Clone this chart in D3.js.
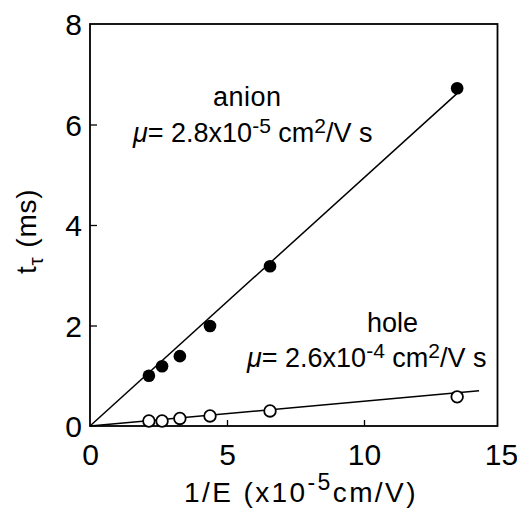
<!DOCTYPE html>
<html><head><meta charset="utf-8">
<script src="https://cdn.jsdelivr.net/npm/d3@7/dist/d3.min.js"></script>
<style>body{margin:0;background:#fff}svg{display:block}text{font-family:"Liberation Sans",Arial,sans-serif;fill:#000}</style>
</head><body>
<script>
const xTicks = [0, 5, 10, 15];
const yTicks = [0, 2, 4, 6, 8];
const anionX = [2.15, 2.63, 3.28, 4.38, 6.57, 13.4];
const anionY = [1.0, 1.19, 1.39, 1.99, 3.18, 6.72];
const holeX = [2.15, 2.63, 3.28, 4.38, 6.57, 13.4];
const holeY = [0.1, 0.1, 0.15, 0.2, 0.3, 0.58];
const anionFitX = [0, 13.4];
const anionFitY = [0, 6.62];
const holeFitX = [0, 14.2];
const holeFitY = [0, 0.70];

const W = 517, H = 514;
const svg = d3.select("body").append("svg").attr("width", W).attr("height", H);
const x = d3.scaleLinear().domain([0, 15]).range([90, 501]);
const y = d3.scaleLinear().domain([0, 8]).range([426, 24]);

// frame
svg.append("rect").attr("x", x(0)).attr("y", y(8)).attr("width", 497.5 - x(0)).attr("height", y(0) - y(8))
  .attr("fill", "none").attr("stroke", "#000").attr("stroke-width", 1.8);

// axes
const xAxis = d3.axisBottom(x).tickValues(xTicks).tickSize(-6).tickPadding(18).tickFormat(d3.format("d"));
const gx = svg.append("g").attr("transform", `translate(0,${y(0)})`).call(xAxis);
const yAxis = d3.axisLeft(y).tickValues(yTicks).tickSize(-7).tickPadding(8).tickFormat(d3.format("d"));
const gy = svg.append("g").attr("transform", `translate(${x(0)},0)`).call(yAxis);
[gx, gy].forEach(g => {
  g.select(".domain").remove();
  g.selectAll(".tick line").attr("stroke", "#000").attr("stroke-width", 1.3);
  g.selectAll(".tick text").style("font-size", "30px").attr("fill", "#000");
});
gx.selectAll(".tick").filter(d => d === 0 || d === 15).select("line").remove();
gy.selectAll(".tick").filter(d => d === 0 || d === 8).select("line").remove();
gy.selectAll(".tick text").attr("dy", "0.36em");

// fit lines
const line = d3.line().x(d => x(d[0])).y(d => y(d[1]));
svg.append("path").datum(anionFitX.map((v, i) => [v, anionFitY[i]])).attr("d", line)
  .attr("fill", "none").attr("stroke", "#000").attr("stroke-width", 1.5);
svg.append("path").datum(holeFitX.map((v, i) => [v, holeFitY[i]])).attr("d", line)
  .attr("fill", "none").attr("stroke", "#000").attr("stroke-width", 1.5);

// points
svg.append("g").selectAll("circle").data(anionX.map((v, i) => [v, anionY[i]])).join("circle")
  .attr("cx", d => x(d[0])).attr("cy", d => y(d[1])).attr("r", 6.3).attr("fill", "#000");
svg.append("g").selectAll("circle").data(holeX.map((v, i) => [v, holeY[i]])).join("circle")
  .attr("cx", d => x(d[0])).attr("cy", d => y(d[1])).attr("r", 5.8).attr("fill", "#fff")
  .attr("stroke", "#000").attr("stroke-width", 1.8);

// annotations
function mu(xp, yp, base, exp) {
  const t = svg.append("text").attr("x", xp).attr("y", yp).style("font-size", "27px");
  t.append("tspan").text("μ").style("font-style", "italic");
  t.append("tspan").text("= " + base + "x10");
  t.append("tspan").text(exp).attr("dy", -9).style("font-size", "21px");
  t.append("tspan").text(" cm").attr("dy", 9).style("font-size", "27px");
  t.append("tspan").text("2").attr("dy", -9).style("font-size", "21px");
  t.append("tspan").text("/V s").attr("dy", 9).style("font-size", "27px");
}
svg.append("text").attr("x", 213).attr("y", 106).style("font-size", "27px").style("letter-spacing", "0.5px").text("anion");
mu(133, 142, "2.8", "-5");
svg.append("text").attr("x", 367).attr("y", 332).style("font-size", "27px").text("hole");
mu(247, 367, "2.6", "-4");

// axis titles
const xt = svg.append("text").attr("x", 184).attr("y", 502).style("font-size", "28px").style("letter-spacing", "2.4px");
xt.append("tspan").text("1/E (x10");
xt.append("tspan").text("-5").attr("dy", -12).style("font-size", "23px");
xt.append("tspan").text("cm/V)").attr("dy", 12);

const yt = svg.append("text").attr("transform", "translate(36,274) rotate(-90)").style("font-size", "28px").style("letter-spacing", "0.8px");
yt.append("tspan").text("t");
yt.append("tspan").text("τ").attr("dy", 7).style("font-size", "21px");
yt.append("tspan").text("\u00a0(ms)").attr("dy", -7);
</script>
</body></html>
